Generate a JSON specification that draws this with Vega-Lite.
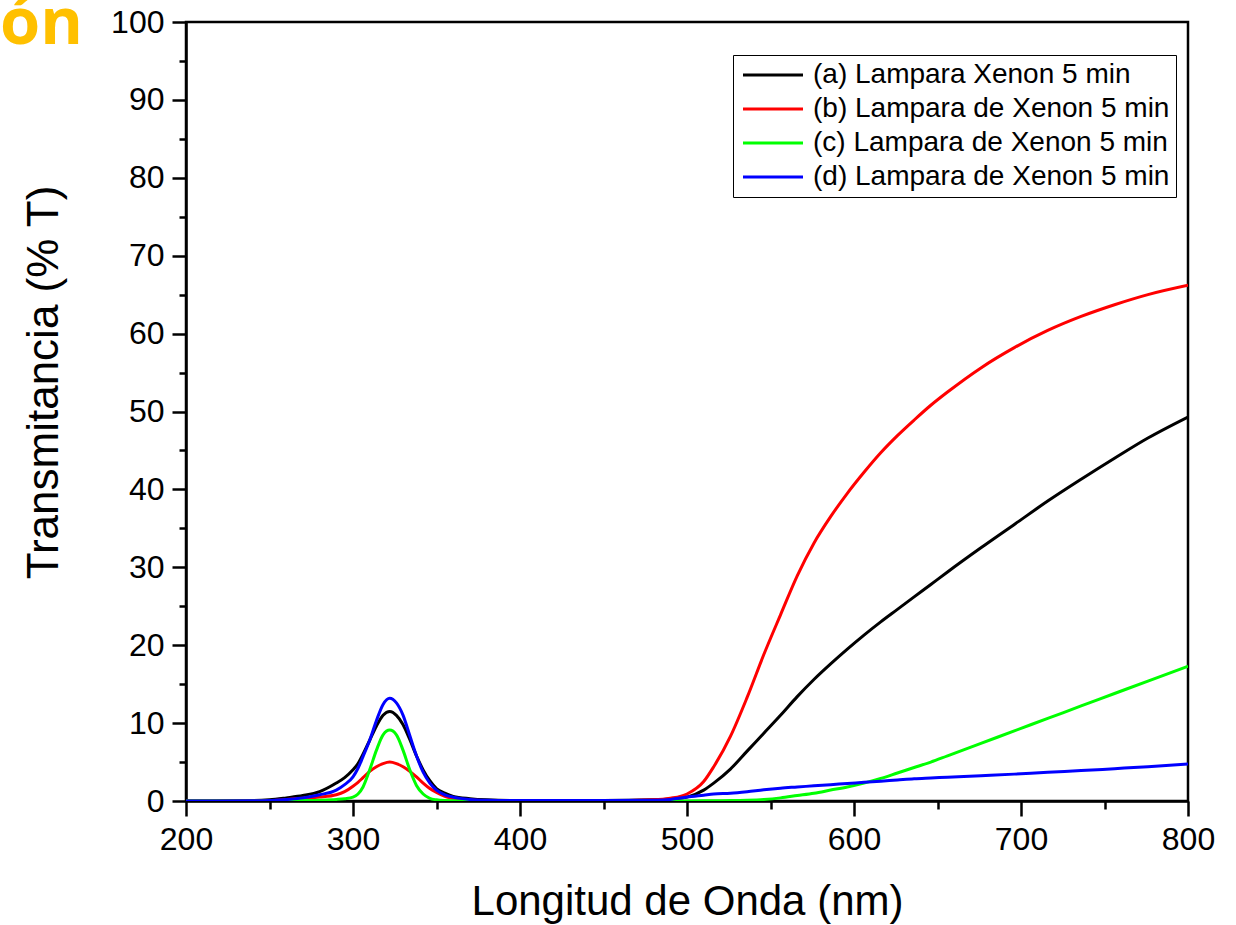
{
  "$schema": "https://vega.github.io/schema/vega-lite/v6.json",
  "width": 1002,
  "height": 779,
  "autosize": {"type": "none"},
  "padding": {"left": 186, "top": 22, "right": 48, "bottom": 124},
  "background": "white",
  "title": {
    "text": "ón",
    "anchor": "start",
    "frame": "group",
    "orient": "top",
    "offset": 0,
    "dx": -186,
    "dy": 103,
    "baseline": "alphabetic",
    "font": "Open Sans",
    "fontWeight": "bold",
    "fontSize": 65,
    "color": "#FFC000"
  },
  "config": {
    "view": {"stroke": "black", "strokeWidth": 2.5},
    "axis": {
      "domainColor": "black",
      "domainWidth": 2.5,
      "tickColor": "black",
      "tickWidth": 2.5,
      "labelFont": "Liberation Sans",
      "labelFontSize": 32,
      "labelColor": "black",
      "titleFont": "Liberation Sans",
      "titleFontSize": 42,
      "titleFontWeight": "normal",
      "titleColor": "black",
      "grid": false,
      "labelPadding": 8
    }
  },
  "data": {
    "values": [
      {"w": 200, "a": 0, "b": 0, "c": 0, "d": 0},
      {"w": 240, "a": 0.05, "b": 0.02, "c": 0, "d": 0.02},
      {"w": 250, "a": 0.15, "b": 0.05, "c": 0, "d": 0.05},
      {"w": 260, "a": 0.4, "b": 0.2, "c": 0.02, "d": 0.2},
      {"w": 270, "a": 0.7, "b": 0.35, "c": 0.05, "d": 0.4},
      {"w": 280, "a": 1.2, "b": 0.5, "c": 0.1, "d": 0.8},
      {"w": 290, "a": 2.3, "b": 0.8, "c": 0.2, "d": 1.4},
      {"w": 295, "a": 3.0, "b": 1.2, "c": 0.3, "d": 2.1},
      {"w": 300, "a": 4.0, "b": 1.9, "c": 0.5, "d": 3.1},
      {"w": 303, "a": 4.8, "b": 2.4, "c": 0.9, "d": 4.2},
      {"w": 306, "a": 6.0, "b": 3.0, "c": 1.8, "d": 5.7},
      {"w": 310, "a": 7.8, "b": 3.8, "c": 4.0, "d": 7.8},
      {"w": 314, "a": 9.6, "b": 4.4, "c": 6.5, "d": 10.3},
      {"w": 318, "a": 11.0, "b": 4.8, "c": 8.5, "d": 12.4},
      {"w": 322, "a": 11.5, "b": 5.0, "c": 9.1, "d": 13.2},
      {"w": 326, "a": 11.0, "b": 4.8, "c": 8.5, "d": 12.6},
      {"w": 330, "a": 9.8, "b": 4.4, "c": 6.5, "d": 11.0},
      {"w": 334, "a": 7.9, "b": 3.8, "c": 4.0, "d": 8.4},
      {"w": 338, "a": 5.8, "b": 3.1, "c": 2.0, "d": 5.8},
      {"w": 342, "a": 4.0, "b": 2.3, "c": 0.9, "d": 3.7},
      {"w": 346, "a": 2.6, "b": 1.6, "c": 0.35, "d": 2.3},
      {"w": 350, "a": 1.6, "b": 1.1, "c": 0.15, "d": 1.4},
      {"w": 355, "a": 1.0, "b": 0.6, "c": 0.05, "d": 0.8},
      {"w": 360, "a": 0.6, "b": 0.35, "c": 0.02, "d": 0.5},
      {"w": 370, "a": 0.3, "b": 0.12, "c": 0, "d": 0.2},
      {"w": 380, "a": 0.15, "b": 0.05, "c": 0, "d": 0.1},
      {"w": 400, "a": 0.05, "b": 0.02, "c": 0, "d": 0.05},
      {"w": 450, "a": 0.05, "b": 0.03, "c": 0, "d": 0.05},
      {"w": 480, "a": 0.15, "b": 0.15, "c": 0, "d": 0.1},
      {"w": 490, "a": 0.25, "b": 0.35, "c": 0, "d": 0.2},
      {"w": 500, "a": 0.5, "b": 0.9, "c": 0, "d": 0.5},
      {"w": 510, "a": 1.4, "b": 2.5, "c": 0.02, "d": 0.75},
      {"w": 516, "a": 2.3, "b": 4.4, "c": 0.03, "d": 0.9},
      {"w": 526, "a": 4.1, "b": 8.3, "c": 0.05, "d": 1.0},
      {"w": 536, "a": 6.4, "b": 13.3, "c": 0.1, "d": 1.2},
      {"w": 546, "a": 8.7, "b": 18.8, "c": 0.2, "d": 1.45},
      {"w": 556, "a": 11.0, "b": 23.9, "c": 0.4, "d": 1.65},
      {"w": 566, "a": 13.4, "b": 28.9, "c": 0.7, "d": 1.8},
      {"w": 576, "a": 15.6, "b": 33.1, "c": 1.0, "d": 1.95},
      {"w": 586, "a": 17.6, "b": 36.5, "c": 1.4, "d": 2.1},
      {"w": 596, "a": 19.5, "b": 39.5, "c": 1.8, "d": 2.25},
      {"w": 606, "a": 21.3, "b": 42.2, "c": 2.3, "d": 2.4},
      {"w": 616, "a": 23.0, "b": 44.7, "c": 2.9, "d": 2.55},
      {"w": 626, "a": 24.6, "b": 46.9, "c": 3.6, "d": 2.7},
      {"w": 636, "a": 26.2, "b": 48.9, "c": 4.3, "d": 2.85},
      {"w": 646, "a": 27.8, "b": 50.8, "c": 5.0, "d": 2.95},
      {"w": 656, "a": 29.4, "b": 52.5, "c": 5.8, "d": 3.05},
      {"w": 676, "a": 32.5, "b": 55.6, "c": 7.4, "d": 3.25},
      {"w": 696, "a": 35.5, "b": 58.2, "c": 9.0, "d": 3.45},
      {"w": 716, "a": 38.5, "b": 60.4, "c": 10.6, "d": 3.7},
      {"w": 736, "a": 41.3, "b": 62.2, "c": 12.2, "d": 3.9},
      {"w": 756, "a": 44.0, "b": 63.7, "c": 13.8, "d": 4.15},
      {"w": 776, "a": 46.6, "b": 65.0, "c": 15.4, "d": 4.4},
      {"w": 800, "a": 49.3, "b": 66.2, "c": 17.3, "d": 4.75}
    ]
  },
  "transform": [{"fold": ["a", "b", "c", "d"], "as": ["serie", "T"]}],
  "mark": {"type": "line", "strokeWidth": 3, "interpolate": "monotone", "clip": true},
  "encoding": {
    "x": {
      "field": "w",
      "type": "quantitative",
      "scale": {"domain": [200, 800], "nice": false, "zero": false},
      "axis": {
        "title": "Longitud de Onda (nm)",
        "values": [200, 250, 300, 350, 400, 450, 500, 550, 600, 650, 700, 750, 800],
        "labelExpr": "datum.value % 100 === 0 ? datum.label : ''",
        "tickSize": {"condition": {"test": "datum.value % 100 === 0", "value": 15}, "value": 8},
        "labelFlush": false,
        "titlePadding": 26
      }
    },
    "y": {
      "field": "T",
      "type": "quantitative",
      "scale": {"domain": [0, 100], "nice": false},
      "axis": {
        "title": "Transmitancia (% T)",
        "values": [0, 5, 10, 15, 20, 25, 30, 35, 40, 45, 50, 55, 60, 65, 70, 75, 80, 85, 90, 95, 100],
        "labelExpr": "datum.value % 10 === 0 ? datum.label : ''",
        "tickSize": {"condition": {"test": "datum.value % 10 === 0", "value": 14}, "value": 7},
        "labelFlush": false,
        "titleFontSize": 44,
        "titleY": 360,
        "titlePadding": 44
      }
    },
    "color": {
      "field": "serie",
      "type": "nominal",
      "scale": {"domain": ["a", "b", "c", "d"], "range": ["#000000", "#FF0000", "#00FF00", "#0000FF"]},
      "legend": {
        "title": null,
        "orient": "none",
        "legendX": 547,
        "legendY": 33,
        "strokeColor": "black",
        "fillColor": "white",
        "padding": 6,
        "symbolType": "M-1,0H5",
        "symbolSize": 400,
        "symbolStrokeWidth": 3,
        "labelOffset": 46,
        "labelFont": "Liberation Sans",
        "labelFontSize": 28,
        "labelLimit": 0,
        "labelColor": "black",
        "rowPadding": 6,
        "labelExpr": "datum.label === 'a' ? '(a) Lampara Xenon 5 min' : datum.label === 'b' ? '(b) Lampara de Xenon 5 min' : datum.label === 'c' ? '(c) Lampara de Xenon 5 min' : '(d) Lampara de Xenon 5 min'"
      }
    }
  }
}
